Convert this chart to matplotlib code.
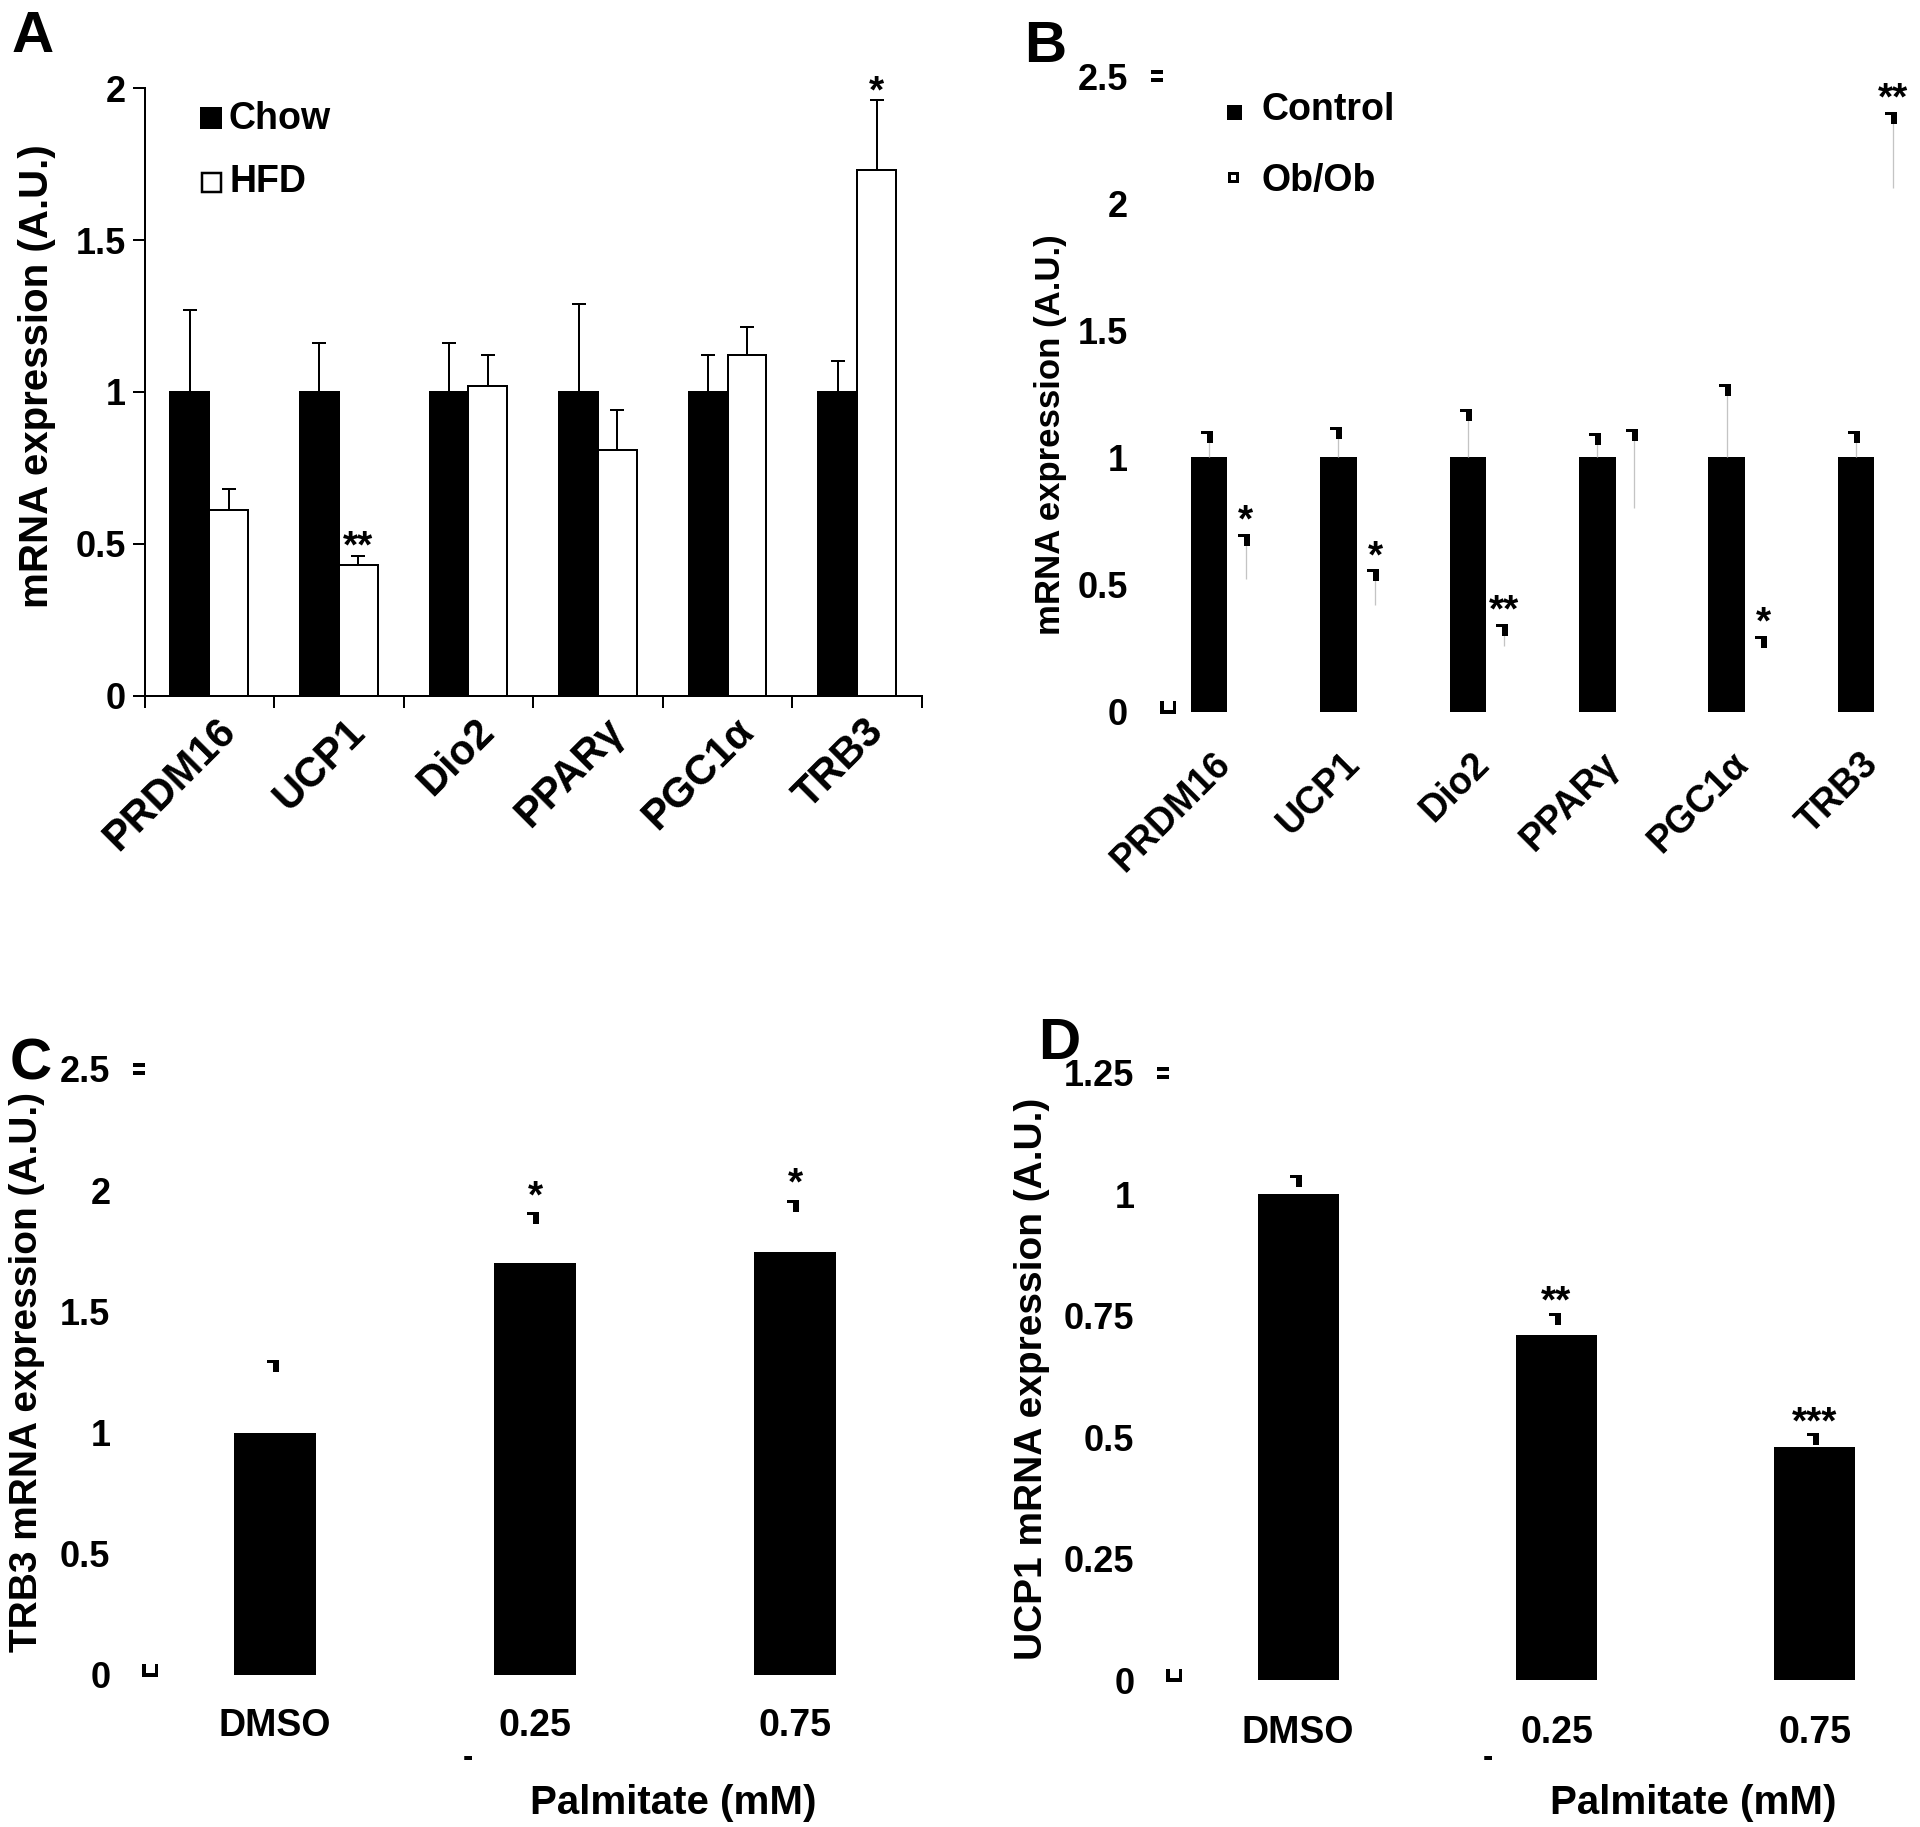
import numpy as np
import matplotlib
matplotlib.use('Agg')
import matplotlib.pyplot as plt
from matplotlib.path import Path
from matplotlib.transforms import ScaledTranslation
from matplotlib.lines import Line2D

plt.rcParams['font.family'] = ['Liberation Sans', 'DejaVu Sans']
plt.rcParams['font.weight'] = 'bold'
plt.rcParams['axes.labelweight'] = 'bold'

# ---------------- data ----------------
genes = ['PRDM16', 'UCP1', 'Dio2', 'PPARγ', 'PGC1α', 'TRB3']
chow_mean = [1, 1, 1, 1, 1, 1]
chow_sem = [0.27, 0.16, 0.16, 0.29, 0.12, 0.10]
hfd_mean = [0.61, 0.43, 1.02, 0.81, 1.12, 1.73]
hfd_sem = [0.07, 0.03, 0.10, 0.13, 0.095, 0.23]
hfd_sig = ['', '**', '', '', '', '*']

ctrl_mean = [1, 1, 1, 1, 1, 1]
ctrl_sem = [0.105, 0.12, 0.19, 0.095, 0.29, 0.105]
obob_mean = [0.52, 0.42, 0.26, 0.80, 0.26, 2.06]
obob_sem = [0.18, 0.14, 0.085, 0.31, 0.038, 0.30]
obob_sig = ['*', '*', '**', '', '*', '**']

palm_labels = ['DMSO', '0.25', '0.75']
trb3_mean = [1.0, 1.70, 1.745]
trb3_sem = [0.30, 0.21, 0.215]
trb3_sig = ['', '*', '*']
ucp1_mean = [1.0, 0.71, 0.48]
ucp1_sem = [0.04, 0.046, 0.028]
ucp1_sig = ['', '**', '***']

yticks_a = [0, 0.5, 1, 1.5, 2]
yticks_b = [0, 0.5, 1, 1.5, 2, 2.5]
yticks_c = [0, 0.5, 1, 1.5, 2, 2.5]
yticks_d = [0, 0.25, 0.5, 0.75, 1, 1.25]

# ---------------- layout helpers ----------------
W, H = 1920, 1827
DPI = 100
PT = 72.0 / DPI  # points per pixel

fig = plt.figure(figsize=(W / DPI, H / DPI), dpi=DPI)
fig.patch.set_facecolor('white')


def px_rect(left, top, width, bottom):
    return [left / W, 1 - bottom / H, width / W, (bottom - top) / H]


def fx(x):
    return x / W


def fy(y):
    return 1 - y / H


def fmt(v):
    return '%g' % v


# custom markers (pixel units, y up)
cap_path = Path([(-8, 0), (3.5, 0), (3.5, -12), (-2.5, -12), (-2.5, -3.3),
                 (-8, -3.3), (-8, 0)])
CAP_MS = 24 * PT
eq_path = Path.make_compound_path(
    Path([(-12.5, 2.3), (-0.5, 2.3), (-0.5, 6.3), (-12.5, 6.3), (-12.5, 2.3)]),
    Path([(-12.5, -6.3), (-0.5, -6.3), (-0.5, -2.3), (-12.5, -2.3), (-12.5, -6.3)]))
EQ_MS = 25 * PT
u_path = Path([(-2.6, 10.7), (1.0, 10.7), (1.0, 1.7), (9.8, 1.7), (9.8, 10.7),
               (13.4, 10.7), (13.4, -2.3), (-2.6, -2.3), (-2.6, 10.7)])
U_MS = 26.8 * PT

TICK_FS = 26
XLAB_FS = 27
LAB_FS = 29
STAR_FS = 28


def artifacts(ax):
    ax.plot([0], [1], transform=ax.transAxes, ls='none', marker=eq_path,
            ms=EQ_MS, mfc='black', mec='none', mew=0, clip_on=False)
    ax.plot([0], [0], transform=ax.transAxes, ls='none', marker=u_path,
            ms=U_MS, mfc='black', mec='none', mew=0, clip_on=False)


def stars(ax, xs, tops, sigs, off_px):
    for xx, tt, s in zip(xs, tops, sigs):
        if s:
            ax.annotate(s, xy=(xx, tt), xytext=(0, off_px * PT),
                        textcoords='offset points', ha='center', va='baseline',
                        fontsize=STAR_FS, fontweight='bold', annotation_clip=False)


# ================= Panel A =================
axA = fig.add_axes(px_rect(144.5, 88.2, 777.5, 695.5))
x6 = np.arange(len(genes))
wa = 0.30
axA.bar(x6 - wa / 2, chow_mean, wa, color='black', edgecolor='black',
        linewidth=2 * PT, zorder=2)
axA.bar(x6 + wa / 2, hfd_mean, wa, color='white', edgecolor='black',
        linewidth=2 * PT, zorder=2)
axA.errorbar(x6 - wa / 2, chow_mean, yerr=[np.zeros(6), chow_sem], fmt='none',
             ecolor='black', elinewidth=2 * PT, capsize=7 * PT, capthick=2 * PT,
             zorder=3)
axA.errorbar(x6 + wa / 2, hfd_mean, yerr=[np.zeros(6), hfd_sem], fmt='none',
             ecolor='black', elinewidth=2 * PT, capsize=7 * PT, capthick=2 * PT,
             zorder=3)
stars(axA, x6 + wa / 2, np.array(hfd_mean) + np.array(hfd_sem), hfd_sig, -2)
axA.set_xlim(-0.5, len(genes) - 0.5)
axA.set_ylim(0, 2)
axA.set_yticks(yticks_a, [fmt(v) for v in yticks_a])
axA.set_xticks(np.arange(-0.5, len(genes), 1.0), [])
axA.set_xticks(x6, genes, minor=True, rotation=45, ha='right', va='center',
               rotation_mode='anchor')
axA.tick_params(axis='both', which='major', direction='out', length=12 * PT,
                width=2 * PT, color='black', labelsize=TICK_FS, pad=6.5 * PT)
axA.tick_params(axis='x', which='minor', length=0, pad=30 * PT, labelsize=30)
offA = ScaledTranslation(20 / DPI, 0, fig.dpi_scale_trans)
for lab in axA.get_xticklabels(minor=True):
    lab.set_transform(lab.get_transform() + offA)
for s in ['top', 'right']:
    axA.spines[s].set_visible(False)
for s in ['left', 'bottom']:
    axA.spines[s].set_linewidth(2 * PT)
axA.set_ylabel('mRNA expression (A.U.)', fontsize=LAB_FS, va='center')
axA.yaxis.set_label_coords(fx(36.7), fy(376), transform=fig.transFigure)

# legend A
fig.add_artist(Line2D([fx(211)], [fy(118)], transform=fig.transFigure, ls='none',
                      marker='s', ms=20 * PT, mfc='black', mec='black', mew=2 * PT))
fig.add_artist(Line2D([fx(211)], [fy(182)], transform=fig.transFigure, ls='none',
                      marker='s', ms=19 * PT, mfc='white', mec='black', mew=2.5 * PT))
fig.text(fx(229), fy(119), 'Chow', fontsize=27, ha='left', va='center')
fig.text(fx(229), fy(182), 'HFD', fontsize=27, ha='left', va='center')

# ================= Panel B =================
axB = fig.add_axes(px_rect(1162.6, 76, 776.5, 711.7))
wb = 0.283
axB.bar(x6 - wb / 2, ctrl_mean, wb, color='black', edgecolor='none', zorder=2)
axB.bar(x6 + wb / 2, obob_mean, wb, color='white', edgecolor='none', zorder=1)
ctrl_top = np.array(ctrl_mean) + np.array(ctrl_sem)
obob_top = np.array(obob_mean) + np.array(obob_sem)
axB.vlines(x6 - wb / 2, ctrl_mean, ctrl_top, colors='#c4c4c4', lw=1.3 * PT, zorder=3)
axB.vlines(x6 + wb / 2, obob_mean, obob_top, colors='#c4c4c4', lw=1.3 * PT, zorder=3)
axB.plot(x6 - wb / 2, ctrl_top, ls='none', marker=cap_path, ms=CAP_MS,
         mfc='black', mec='none', mew=0, zorder=4, clip_on=False)
axB.plot(x6 + wb / 2, obob_top, ls='none', marker=cap_path, ms=CAP_MS,
         mfc='black', mec='none', mew=0, zorder=4, clip_on=False)
stars(axB, x6 + wb / 2, obob_top, obob_sig, 2)
axB.set_xlim(-0.5, len(genes) - 0.5)
axB.set_ylim(0, 2.5)
axB.set_yticks(yticks_b, [fmt(v) for v in yticks_b])
axB.set_xticks(x6, genes, rotation=45, ha='right', va='center',
               rotation_mode='anchor')
axB.tick_params(axis='y', length=0, pad=34.6 * PT, labelsize=TICK_FS)
axB.tick_params(axis='x', length=0, pad=47 * PT, labelsize=XLAB_FS)
offB = ScaledTranslation(-2 / DPI, 0, fig.dpi_scale_trans)
for lab in axB.get_xticklabels():
    lab.set_transform(lab.get_transform() + offB)
for s in axB.spines.values():
    s.set_visible(False)
artifacts(axB)
axB.set_ylabel('mRNA expression (A.U.)', fontsize=25, va='center')
axB.yaxis.set_label_coords(fx(1050.6), fy(435), transform=fig.transFigure)

# legend B
fig.add_artist(Line2D([fx(1234)], [fy(112)], transform=fig.transFigure, ls='none',
                      marker='s', ms=12 * PT, mfc='black', mec='black', mew=3 * PT))
fig.add_artist(Line2D([fx(1233)], [fy(177)], transform=fig.transFigure, ls='none',
                      marker='s', ms=8 * PT, mfc='white', mec='black', mew=3 * PT))
fig.text(fx(1261.7), fy(110), 'Control', fontsize=27, ha='left', va='center')
fig.text(fx(1261.7), fy(181), 'Ob/Ob', fontsize=27, ha='left', va='center')

# ================= Panels C & D =================
x3 = np.arange(len(palm_labels))
wc = 0.314


def palm_panel(rect, mean, sem, sig, yt, ylim, ylabel, lab_fs, lab_xy, star_off, xpad):
    ax = fig.add_axes(rect)
    ax.bar(x3, mean, wc, color='black', edgecolor='none', zorder=2)
    top = np.array(mean) + np.array(sem)
    ax.plot(x3, top, ls='none', marker=cap_path, ms=CAP_MS, mfc='black',
            mec='none', mew=0, zorder=4, clip_on=False)
    stars(ax, x3, top, sig, star_off)
    ax.set_xlim(-0.5, len(palm_labels) - 0.5)
    ax.set_ylim(*ylim)
    ax.set_yticks(yt, [fmt(v) for v in yt])
    ax.set_xticks(x3, palm_labels)
    ax.tick_params(axis='y', length=0, pad=34.6 * PT, labelsize=TICK_FS)
    ax.tick_params(axis='x', length=0, pad=xpad, labelsize=XLAB_FS)
    for s in ax.spines.values():
        s.set_visible(False)
    artifacts(ax)
    ax.set_ylabel(ylabel, fontsize=lab_fs, va='center')
    ax.yaxis.set_label_coords(fx(lab_xy[0]), fy(lab_xy[1]), transform=fig.transFigure)
    return ax


axC = palm_panel(px_rect(145, 1069, 780, 1675), trb3_mean, trb3_sem, trb3_sig,
                 yticks_c, (0, 2.5), 'TRB3 mRNA expression (A.U.)', 28, (27, 1372),
                 5, 24)
axD = palm_panel(px_rect(1169, 1073, 775, 1680), ucp1_mean, ucp1_sem, ucp1_sig,
                 yticks_d, (0, 1.25), 'UCP1 mRNA expression (A.U.)', 28, (1032, 1379),
                 0, 25.5)

fig.text(fx(673), fy(1802.5), 'Palmitate (mM)', fontsize=LAB_FS, ha='center', va='center')
fig.text(fx(1693.5), fy(1802.5), 'Palmitate (mM)', fontsize=LAB_FS, ha='center', va='center')
fig.text(fx(468), fy(1758), '-', fontsize=22, ha='center', va='center')
fig.text(fx(1488), fy(1758), '-', fontsize=22, ha='center', va='center')

# panel letters
for letter, (lx, ly) in zip('ABCD', [(12, 51.6), (1024, 62), (10, 1079), (1038, 1059)]):
    fig.text(fx(lx), fy(ly), letter, fontsize=42, fontweight='bold', ha='left',
             va='baseline')

fig.savefig('out.png', dpi=DPI, facecolor='white')
